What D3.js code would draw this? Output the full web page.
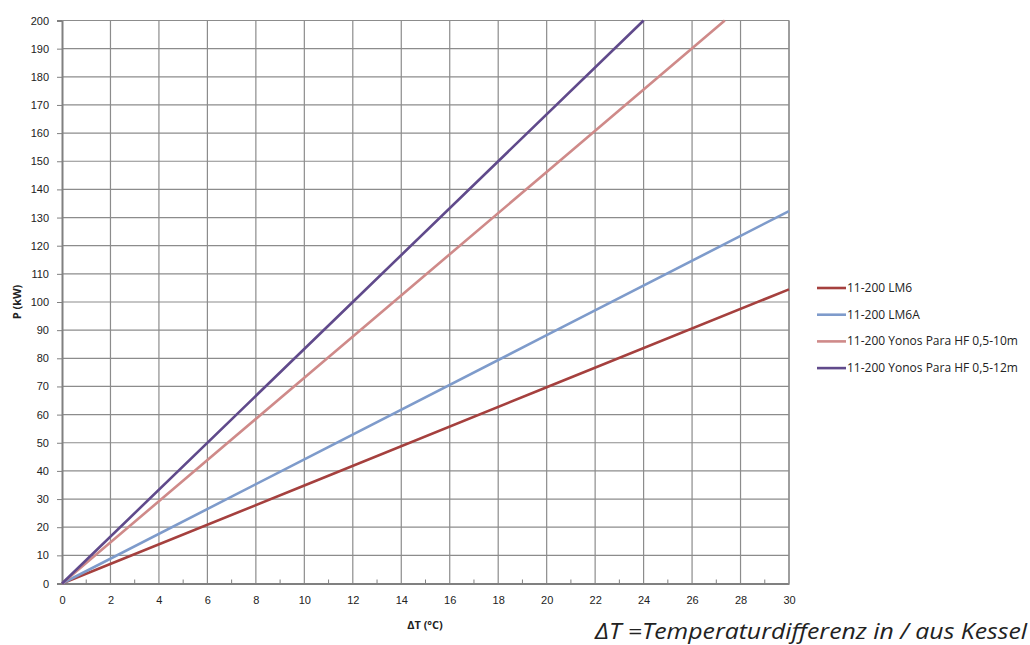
<!DOCTYPE html>
<html><head><meta charset="utf-8">
<script src="https://cdn.jsdelivr.net/npm/d3@7"></script>
<style>
body{margin:0;background:#fff;}
svg{display:block;font-family:"Open Sans","Noto Sans",sans-serif;}
</style></head>
<body><svg id="c" width="1030" height="645"></svg>
<script>
// Data (ΔT in °C, P in kW); lines are straight
const seriesNames = ["11-200 LM6","11-200 LM6A","11-200 Yonos Para HF 0,5-10m","11-200 Yonos Para HF 0,5-12m"];
const seriesColors = ["#a5403e","#7e9bcb","#cf8a89","#604a8b"];
const lm6 = [[0,0],[10,34.8],[20,69.7],[30,104.5]];
const lm6a = [[0,0],[10,44.1],[20,88.2],[30,132.3]];
const yonos10 = [[0,0],[10,73.1],[20,146.2],[27.35,200]];
const yonos12 = [[0,0],[12,100],[24,200]];
const xTicks = d3.range(0,31,2);
const xMinorTicks = d3.range(1,30,2);
const yTicks = d3.range(0,201,10);

const series = [lm6, lm6a, yonos10, yonos12];
const svg = d3.select("#c");
const L=62, R=789, T=20.5, B=583.5;
const x = d3.scaleLinear().domain([0,30]).range([L,R]);
const y = d3.scaleLinear().domain([0,200]).range([B,T]);

// grid
svg.append("g").selectAll("line").data(yTicks.filter(d=>d>0)).join("line")
  .attr("x1",L).attr("x2",R).attr("y1",d=>y(d)).attr("y2",d=>y(d))
  .attr("stroke","#8c8c8c").attr("stroke-width",1.2);
svg.append("g").selectAll("line").data(xTicks.filter(d=>d>0)).join("line")
  .attr("y1",T).attr("y2",B).attr("x1",d=>x(d)).attr("x2",d=>x(d))
  .attr("stroke","#8c8c8c").attr("stroke-width",1.2);

// axes
const xAxis = svg.append("g").attr("transform",`translate(0,${B})`)
  .call(d3.axisBottom(x).tickValues(xTicks).tickSize(0).tickPadding(13).tickFormat(d3.format("d")));
xAxis.select(".domain").attr("stroke","#808080").attr("stroke-width",2);
xAxis.selectAll("text").attr("font-size",11).attr("fill","#222");
svg.append("g").selectAll("line").data(xMinorTicks).join("line")
  .attr("x1",d=>x(d)).attr("x2",d=>x(d)).attr("y1",B-4).attr("y2",B)
  .attr("stroke","#808080").attr("stroke-width",1);

const yAxis = svg.append("g").attr("transform",`translate(${L},0)`)
  .call(d3.axisLeft(y).tickValues(yTicks).tickSize(5).tickPadding(8).tickFormat(d3.format("d")));
yAxis.select(".domain").attr("stroke","#808080").attr("stroke-width",2);
yAxis.selectAll(".tick line").attr("stroke","#808080");
yAxis.selectAll("text").attr("font-size",11).attr("fill","#222");

// right & top border
svg.append("line").attr("x1",R).attr("x2",R).attr("y1",T).attr("y2",B).attr("stroke","#8c8c8c").attr("stroke-width",1.2);
svg.append("line").attr("x1",L).attr("x2",R).attr("y1",T).attr("y2",T).attr("stroke","#8c8c8c").attr("stroke-width",1.2);

// lines
const line = d3.line().x(d=>x(d[0])).y(d=>y(d[1]));
series.forEach((s,i)=>{
  svg.append("path").attr("d",line(s)).attr("fill","none")
    .attr("stroke",seriesColors[i]).attr("stroke-width",2.6);
});

// axis titles
svg.append("text").attr("transform","translate(21,302) rotate(-90)")
  .attr("text-anchor","middle").attr("font-size",11).attr("font-weight","bold").attr("fill","#222").text("P (kW)");
svg.append("text").attr("x",425).attr("y",629).attr("text-anchor","middle")
  .attr("font-size",11).attr("font-weight","bold").attr("fill","#222").text("ΔT (°C)");

// legend
const lg = svg.append("g");
seriesNames.forEach((n,i)=>{
  const yy = 288 + i*26.7;
  lg.append("line").attr("x1",817).attr("x2",846).attr("y1",yy).attr("y2",yy)
    .attr("stroke",seriesColors[i]).attr("stroke-width",2.6);
  lg.append("text").attr("x",847).attr("y",yy+4).attr("font-size",12).attr("fill","#222").text(n);
});

// footnote
svg.append("text").attr("x",595).attr("y",639)
  .attr("font-size",21).attr("font-style","italic").attr("fill","#222")
  .attr("textLength",432).attr("lengthAdjust","spacingAndGlyphs")
  .text("ΔT =Temperaturdifferenz in / aus Kessel");
</script></body></html>
